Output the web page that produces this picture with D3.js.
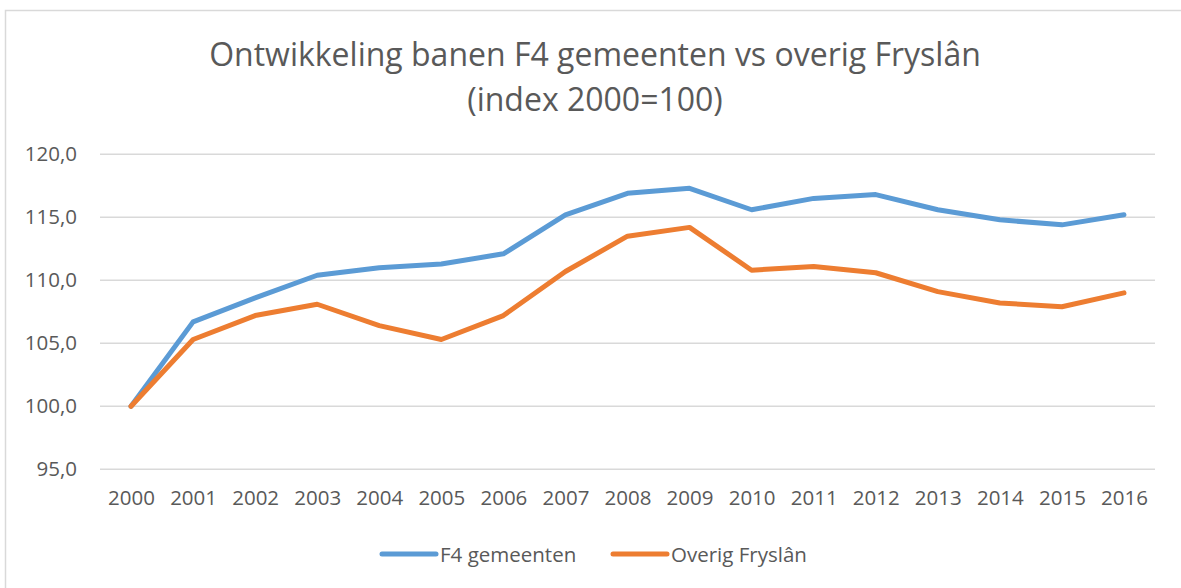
<!DOCTYPE html>
<html>
<head>
<meta charset="utf-8">
<script src="https://cdn.jsdelivr.net/npm/d3@7"></script>
<style>
  html, body { margin: 0; padding: 0; background: #fff; }
  svg { display: block; font-family: "Open Sans", sans-serif; }
  .chart__axis text { fill: #595959; font-size: 20.5px; }
  .chart__title { fill: #595959; font-size: 32px; }
  .chart__legend text { fill: #595959; font-size: 20.5px; }
</style>
</head>
<body>
<svg class="chart"></svg>
<script>
const years = ["2000","2001","2002","2003","2004","2005","2006","2007","2008","2009","2010","2011","2012","2013","2014","2015","2016"];
const f4 = [100.0, 106.7, 108.6, 110.4, 111.0, 111.3, 112.1, 115.2, 116.9, 117.3, 115.6, 116.5, 116.8, 115.6, 114.8, 114.4, 115.2];
const overig = [100.0, 105.3, 107.2, 108.1, 106.4, 105.3, 107.2, 110.7, 113.5, 114.2, 110.8, 111.1, 110.6, 109.1, 108.2, 107.9, 109.0];
const yTicks = [95, 100, 105, 110, 115, 120];
const seriesNames = ["F4 gemeenten", "Overig Fryslân"];
const colors = ["#5B9BD5", "#ED7D31"];

const width = 1181, height = 588;
const plot = { left: 100, right: 1155, top: 154.3, bottom: 469.3 };

const svg = d3.select(".chart").attr("width", width).attr("height", height);

// outer frame
svg.append("rect")
  .attr("x", 5.5).attr("y", 10.5)
  .attr("width", width + 10).attr("height", height + 10)
  .attr("fill", "none").attr("stroke", "#d9d9d9").attr("stroke-width", 1.5);

// scales
const x = d3.scalePoint().domain(years).range([plot.left, plot.right]).padding(0.5);
const y = d3.scaleLinear().domain([95, 120]).range([plot.bottom, plot.top]);
const fmt = d3.formatLocale({ decimal: ",", thousands: ".", grouping: [3], currency: ["€", ""] }).format(".1f");

// gridlines
svg.append("g").selectAll("line").data(yTicks).join("line")
  .attr("x1", plot.left).attr("x2", plot.right)
  .attr("y1", d => y(d)).attr("y2", d => y(d))
  .attr("stroke", "#d9d9d9").attr("stroke-width", 1.5);

// axes
const yAxis = svg.append("g").attr("class", "chart__axis chart__axis--y")
  .attr("transform", `translate(${plot.left},0)`)
  .call(d3.axisLeft(y).tickValues(yTicks).tickFormat(fmt).tickSize(0).tickPadding(23));
yAxis.select(".domain").remove();

const xAxis = svg.append("g").attr("class", "chart__axis chart__axis--x")
  .attr("transform", `translate(0,${plot.bottom})`)
  .call(d3.axisBottom(x).tickSize(0).tickPadding(21));
xAxis.select(".domain").remove();
svg.selectAll(".chart__axis").attr("font-family", null).attr("font-size", null);

// lines
const line = d3.line()
  .x((d, i) => x(years[i]))
  .y(d => y(d));

[f4, overig].forEach((s, i) => {
  svg.append("path").datum(s)
    .attr("fill", "none")
    .attr("stroke", colors[i])
    .attr("stroke-width", 5)
    .attr("stroke-linejoin", "round")
    .attr("stroke-linecap", "round")
    .attr("d", line);
});

// title
const title = svg.append("text").attr("class", "chart__title").attr("text-anchor", "middle");
title.append("tspan").attr("x", 595).attr("y", 66).text("Ontwikkeling banen F4 gemeenten vs overig Fryslân");
title.append("tspan").attr("x", 595).attr("y", 111).text("(index 2000=100)");

// legend
const legendX = [382, 613];
const legend = svg.append("g").attr("class", "chart__legend");
seriesNames.forEach((name, i) => {
  legend.append("line")
    .attr("x1", legendX[i]).attr("x2", legendX[i] + 54)
    .attr("y1", 554).attr("y2", 554)
    .attr("stroke", colors[i]).attr("stroke-width", 5).attr("stroke-linecap", "round");
  legend.append("text")
    .attr("x", legendX[i] + 58).attr("y", 561.5)
    .text(name);
});
</script>
</body>
</html>
